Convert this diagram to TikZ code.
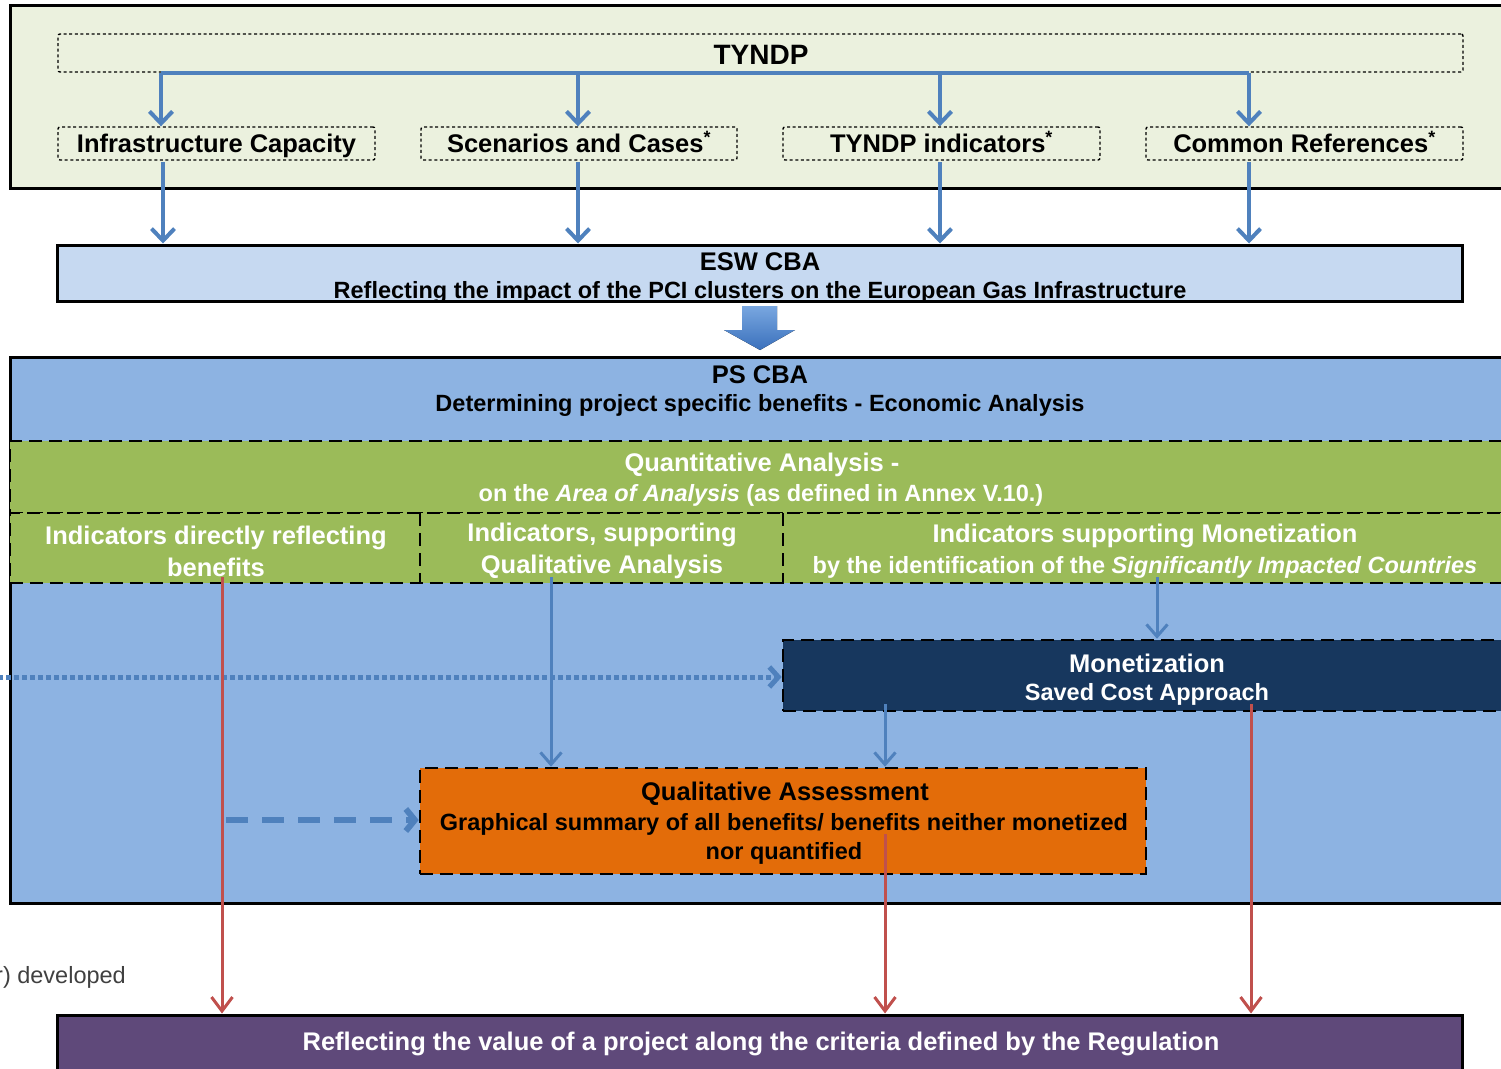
\documentclass[tikz,border=0pt]{standalone}
\usepackage{fontspec}
\setmainfont{Liberation Sans}
\usetikzlibrary{arrows.meta}

\definecolor{topbg}{HTML}{EBF1DE}
\definecolor{eswbg}{HTML}{C6D9F1}
\definecolor{psbg}{HTML}{8DB3E2}
\definecolor{qgreen}{HTML}{9BBB59}
\definecolor{navy}{HTML}{17375E}
\definecolor{qorange}{HTML}{E36C09}
\definecolor{vpurple}{HTML}{5F497A}
\definecolor{lblue}{HTML}{4F81BD}
\definecolor{lred}{HTML}{C0504D}
\definecolor{arrowtop}{HTML}{79A7E0}
\definecolor{arrowbot}{HTML}{3A70BC}

\newcommand{\starmark}{\smash{\textsuperscript{*}}}

\tikzset{
  frame/.style={draw=black, line width=3pt, inner sep=0pt},
  dotbox/.style={draw=black, line width=1.4pt, dash pattern=on 3pt off 2.6pt,
                 rounded corners=2pt, inner sep=0pt},
  dashbox/.style={draw=black, line width=2.6pt, dash pattern=on 13pt off 7pt, inner sep=0pt},
  head/.style={inner sep=0pt, align=center, yshift=-2pt, font=\bfseries\fontsize{25.5}{32}\selectfont},
  subline/.style={inner sep=0pt, align=center, yshift=-2pt, font=\bfseries\fontsize{23.5}{29.5}\selectfont},
  oneline/.style={text height=18.5pt, text depth=5.5pt},
  barrow/.style={draw=lblue, line width=4pt, -{Straight Barb[length=12pt,width=23pt]}},
  thinarrow/.style={draw=lblue, line width=3pt, -{Straight Barb[length=12pt,width=21pt]}},
  rarrow/.style={draw=lred, line width=3pt, -{Straight Barb[length=14pt,width=21pt]}},
  dotarrow/.style={draw=lblue, line width=5pt, dash pattern=on 4.5pt off 3.5pt,
                   -{Straight Barb[length=9pt,width=20pt]}},
  dasharrow/.style={draw=lblue, line width=6pt, dash pattern=on 22pt off 14pt,
                    -{Straight Barb[length=9pt,width=22pt]}},
}

\begin{document}
\begin{tikzpicture}[x=1pt,y=-1pt]
\useasboundingbox (0,0) rectangle (1501,1068);

% ---- TYNDP block ----
\node[frame, fill=topbg, minimum width=1510pt, minimum height=183pt] (top) at (765,96.5) {};
\node[dotbox, minimum width=1405pt, minimum height=38pt] (tyndp) at (760.5,53) {};
\node[head, font=\bfseries\fontsize{28}{32}\selectfont] (tyndptxt) at (761,53) {TYNDP};

\node[dotbox, minimum width=317pt, minimum height=33pt] (infra) at (216.5,143.5) {};
\node[dotbox, minimum width=316pt, minimum height=33pt] (scen)  at (579,143.5) {};
\node[dotbox, minimum width=317pt, minimum height=33pt] (ind)   at (941.5,143.5) {};
\node[dotbox, minimum width=317pt, minimum height=33pt] (comm)  at (1304.5,143.5) {};
\node[head, oneline] (infratxt) at (216.5,144) {Infrastructure Capacity};
\node[head, oneline] (scentxt)  at (579,144) {Scenarios and Cases\starmark};
\node[head, oneline] (indtxt)   at (941.5,144) {TYNDP indicators\starmark};
\node[head, oneline] (commtxt)  at (1304.5,144) {Common References\starmark};

% ---- ESW CBA ----
\node[frame, fill=eswbg, minimum width=1405pt, minimum height=56pt] (esw) at (759.5,273) {};
\node[head] (eswtitle) at (760,260) {ESW CBA};
\node[subline] (eswsub) at (760,290) {Reflecting the impact of the PCI clusters on the European Gas Infrastructure};

% ---- block arrow between the two analyses ----
\fill[top color=arrowtop, bottom color=arrowbot]
  (742,306) -- (777,306) -- (777,330) -- (795,330) -- (760,350) -- (724,330) -- (742,330) -- cycle;

% ---- PS CBA ----
\node[frame, fill=psbg, minimum width=1510pt, minimum height=546pt] (ps) at (765,630) {};
\node[head] (pstitle) at (760,373) {PS CBA};
\node[subline] (pssub) at (760,403) {Determining project specific benefits - Economic Analysis};

\node[dashbox, fill=qgreen, minimum width=1520pt, minimum height=72pt] (quant) at (770,477) {};
\node[dashbox, fill=qgreen, minimum width=1520pt, minimum height=70pt] (indrow) at (770,548) {};
\coordinate (div1) at (420,513);
\coordinate (div2) at (783,513);
\draw[black, line width=2.6pt, dash pattern=on 13pt off 7pt] (div1) -- (div1 |- indrow.south);
\draw[black, line width=2.6pt, dash pattern=on 13pt off 7pt] (div2) -- (div2 |- indrow.south);

\node[head, text=white] (quanttitle) at (762,463) {Quantitative Analysis -};
\node[subline, text=white] (quantsub) at (761,493) {on the \textit{Area of Analysis} (as defined in Annex V.10.)};
\node[head, text=white] (col1) at (216,549) {Indicators directly reflecting\\benefits};
\node[head, text=white] (col2) at (602,549) {Indicators, supporting\\Qualitative Analysis};
\node[head, text=white] (col3) at (1145,534) {Indicators supporting Monetization};
\node[subline, text=white] (col3sub) at (1145,565) {by the identification of the \textit{Significantly Impacted Countries}};

\node[dashbox, fill=navy, minimum width=740pt, minimum height=71pt] (mon) at (1153,675.5) {};
\node[head, text=white] (montitle) at (1147,661) {Monetization};
\node[subline, text=white] (monsub) at (1147,692) {Saved Cost Approach};

\node[dashbox, fill=qorange, minimum width=726pt, minimum height=106pt] (qual) at (783,821) {};
\node[head] (qualtitle) at (785,792) {Qualitative Assessment};
\node[subline] (qualsub) at (784,837) {Graphical summary of all benefits/ benefits neither monetized\\nor quantified};

% ---- result ----
\node[frame, fill=vpurple, minimum width=1405pt, minimum height=70pt] (result) at (759.5,1050) {};
\node[head, text=white] (resulttxt) at (761,1042) {Reflecting the value of a project along the criteria defined by the Regulation};

\node[inner sep=0pt, anchor=west, text=black!75, yshift=-2pt, font=\fontsize{23.5}{28}\selectfont] (note) at (-5,975) {r) developed};

% ---- connectors: TYNDP distribution ----
\coordinate (j1) at (161,73);
\coordinate (j2) at (578,73);
\coordinate (j3) at (940,73);
\coordinate (j4) at (1249,73);
\draw[draw=lblue, line width=4pt] (j1) -- (j4);
\draw[barrow] (j1) -- (j1 |- infra.north);
\draw[barrow] (j2) -- (j2 |- scen.north);
\draw[barrow] (j3) -- (j3 |- ind.north);
\draw[barrow] (j4) -- (j4 |- comm.north);

\coordinate (e1) at (163,162);
\coordinate (e2) at (578,162);
\coordinate (e3) at (940,162);
\coordinate (e4) at (1249,162);
\draw[barrow] (e1) -- (e1 |- esw.north);
\draw[barrow] (e2) -- (e2 |- esw.north);
\draw[barrow] (e3) -- (e3 |- esw.north);
\draw[barrow] (e4) -- (e4 |- esw.north);

% ---- connectors inside PS CBA ----
\coordinate (dstart) at (-10,677);
\draw[dotarrow] (dstart) -- (mon.west |- dstart);

\coordinate (c2) at (551,577);
\coordinate (c3) at (1157,577);
\coordinate (m1) at (885,704);
\draw[thinarrow] (c2) -- (c2 |- qual.north);
\draw[thinarrow] (c3) -- (c3 |- mon.north);
\draw[thinarrow] (m1) -- (m1 |- qual.north);

\coordinate (d1) at (226,820);
\draw[dasharrow] (d1) -- (d1 -| qual.west);

% ---- connectors to the result ----
\coordinate (r1) at (222,577);
\coordinate (r2) at (885,834);
\coordinate (r3) at (1251,704);
\draw[rarrow] (r1) -- (r1 |- result.north);
\draw[rarrow] (r2) -- (r2 |- result.north);
\draw[rarrow] (r3) -- (r3 |- result.north);
\end{tikzpicture}
\end{document}
